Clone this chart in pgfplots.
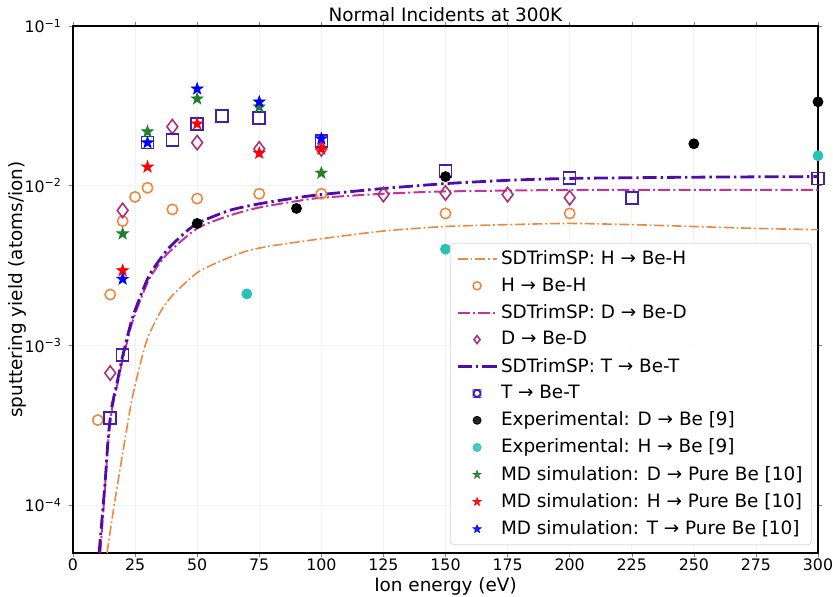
\documentclass[border=0pt]{standalone}
\usepackage{fontspec}
\setmainfont{DejaVu Sans}
\usepackage{pgfplots}
\pgfplotsset{compat=1.18}

\definecolor{cHline}{RGB}{238,136,62}
\definecolor{cDline}{RGB}{196,52,150}
\definecolor{cDmark}{RGB}{168,48,120}
\definecolor{cTline}{RGB}{78,12,172}
\definecolor{cTmark}{RGB}{62,32,182}
\definecolor{cExpH}{RGB}{40,194,182}
\definecolor{cMdD}{RGB}{34,128,44}

% filled five-pointed star
\pgfdeclareplotmark{fstar}{%
  \pgfpathmoveto{\pgfpointpolar{90}{\pgfplotmarksize}}%
  \pgfpathlineto{\pgfpointpolar{126}{0.4\pgfplotmarksize}}%
  \pgfpathlineto{\pgfpointpolar{162}{\pgfplotmarksize}}%
  \pgfpathlineto{\pgfpointpolar{198}{0.4\pgfplotmarksize}}%
  \pgfpathlineto{\pgfpointpolar{234}{\pgfplotmarksize}}%
  \pgfpathlineto{\pgfpointpolar{270}{0.4\pgfplotmarksize}}%
  \pgfpathlineto{\pgfpointpolar{306}{\pgfplotmarksize}}%
  \pgfpathlineto{\pgfpointpolar{342}{0.4\pgfplotmarksize}}%
  \pgfpathlineto{\pgfpointpolar{18}{\pgfplotmarksize}}%
  \pgfpathlineto{\pgfpointpolar{54}{0.4\pgfplotmarksize}}%
  \pgfpathclose
  \pgfusepathqfillstroke
}

\newcommand{\sfm}{\char"2212\relax}

\begin{document}
\begin{tikzpicture}
\useasboundingbox (-36.5pt,-21.5pt) rectangle (380pt,276.5pt);
\begin{axis}[
  scale only axis, width=372.5pt, height=263.5pt,
  at={(0,0)}, anchor=south west,
  ymode=log,
  xmin=0, xmax=300, ymin=5e-5, ymax=0.1,
  xtick={0,25,...,300},
  ytick={1e-4,1e-3,1e-2,1e-1},
  yticklabels={10\textsuperscript{\sfm4},10\textsuperscript{\sfm3},10\textsuperscript{\sfm2},10\textsuperscript{\sfm1}},
  /pgf/number format/assume math mode=true,
  yminorticks=false,
  tick align=outside, major tick length=2pt,
  axis line style={line width=0.9pt},
  grid=major, grid style={gray!10, line width=0.4pt},
  tick label style={font=\fontsize{7.9}{9}\selectfont},
  xticklabel style={yshift=2.5pt},
  label style={font=\fontsize{9.2}{11}\selectfont},
  title style={font=\fontsize{9.2}{11}\selectfont, yshift=-7.5pt},
  title={Normal Incidents at 300K},
  xlabel={Ion energy (eV)},
  ylabel={sputtering yield (atoms/ion)},
  xlabel style={at={(axis description cs:0.5,-0.063)}, anchor=center},
  ylabel style={at={(axis description cs:-0.075,0.5)}, anchor=center},
  legend cell align=left,
  legend image code/.code={\draw[mark repeat=2, mark phase=2, #1] plot coordinates {(0cm,0cm) (0.34cm,0cm) (0.68cm,0cm)};},
  legend image post style={mark size=2pt},
  legend style={font=\fontsize{9.2}{11}\selectfont, at={(0.992,0.015)}, anchor=south east,
    draw=gray!30, rounded corners=2pt, fill=white, fill opacity=0.85, text opacity=1,
    nodes={inner sep=1.6pt}, row sep=1.9pt},
]

\addplot[cHline, line width=0.8pt, dash pattern=on 5pt off 1.4pt on 0.9pt off 1.4pt, no marks, smooth, tension=0.4] coordinates {
  (13.7,5e-5) (16.6,1e-4) (20,2.1e-4) (24,4.8e-4) (29.5,1.05e-3) (35,1.6e-3)
  (40,2.05e-3) (50,2.85e-3) (60,3.4e-3) (70,3.9e-3) (80,4.2e-3) (100,4.65e-3)
  (125,5.2e-3) (150,5.55e-3) (175,5.7e-3) (200,5.8e-3) (225,5.7e-3) (250,5.55e-3)
  (275,5.4e-3) (300,5.3e-3)
};
\addlegendentry{SDTrimSP: H → Be-H}

\addplot[only marks, cHline, mark=o, mark size=2.6pt, mark options={line width=0.8pt}] coordinates {
  (10,3.4e-4) (15,2.08e-3) (20,6.0e-3) (25,8.5e-3) (30,9.7e-3) (40,7.1e-3)
  (50,8.3e-3) (75,8.9e-3) (100,8.9e-3) (150,6.7e-3) (200,6.7e-3)
};
\addlegendentry{H → Be-H}

\addplot[cDline, line width=1.0pt, dash pattern=on 6pt off 1.6pt on 1pt off 1.6pt, no marks, smooth, tension=0.4] coordinates {
  (11,5e-5) (12.9,1.3e-4) (14.2,2.5e-4) (15.6,3.9e-4) (18.2,6.0e-4) (19.9,8.0e-4)
  (23.6,1.35e-3) (27,1.9e-3) (31,2.65e-3) (37.7,3.7e-3) (50,5.4e-3) (63,6.5e-3)
  (75,7.3e-3) (90,8.0e-3) (100,8.4e-3) (125,8.9e-3) (150,9.2e-3) (200,9.4e-3)
  (250,9.4e-3) (300,9.4e-3)
};
\addlegendentry{SDTrimSP: D → Be-D}

\addplot[only marks, cDmark, mark=diamond, mark size=3.6pt, mark options={line width=0.8pt}] coordinates {
  (15,6.7e-4) (20,7.0e-3) (40,2.34e-2) (50,1.86e-2) (75,1.7e-2) (100,1.7e-2)
  (125,8.8e-3) (150,9.0e-3) (175,8.8e-3) (200,8.4e-3)
};
\addlegendentry{D → Be-D}

\addplot[cTline, line width=1.4pt, dash pattern=on 7pt off 2pt on 1.2pt off 2pt, no marks, smooth, tension=0.4] coordinates {
  (10.5,5e-5) (12.9,1.37e-4) (14.2,2.67e-4) (15.6,4.1e-4) (18.2,6.3e-4) (19.9,8.45e-4)
  (23.6,1.43e-3) (27,2.0e-3) (31,2.8e-3) (37.7,3.92e-3) (44,4.9e-3) (50,5.8e-3)
  (63,7.0e-3) (75,7.7e-3) (90,8.4e-3) (100,8.8e-3) (125,9.6e-3) (150,1.03e-2)
  (175,1.08e-2) (200,1.11e-2) (250,1.13e-2) (300,1.14e-2)
};
\addlegendentry{SDTrimSP: T → Be-T}

\addplot[only marks, cTmark, mark=square, mark size=3pt, mark options={line width=0.8pt},
  legend image code/.code={\draw[cTmark, line width=0.8pt] (0.34cm-1.8pt,-1.8pt) rectangle (0.34cm+1.8pt,1.8pt);}] coordinates {
  (15,3.5e-4) (20,8.7e-4) (30,1.86e-2) (40,1.94e-2) (50,2.44e-2) (60,2.74e-2)
  (75,2.66e-2) (100,1.91e-2) (150,1.24e-2) (200,1.12e-2) (225,8.4e-3) (300,1.11e-2)
};
\addlegendentry{T → Be-T}

\addplot[only marks, black, mark=*, mark size=2.5pt] coordinates {
  (50,5.8e-3) (90,7.2e-3) (150,1.14e-2) (250,1.83e-2) (300,3.35e-2)
};
\addlegendentry{Experimental: D → Be [9]}

\addplot[only marks, cExpH, mark=*, mark size=2.5pt] coordinates {
  (70,2.1e-3) (150,4.0e-3) (300,1.54e-2)
};
\addlegendentry{Experimental: H → Be [9]}

\addplot[only marks, cMdD, mark=fstar, mark size=3pt] coordinates {
  (20,5.0e-3) (30,2.18e-2) (50,3.5e-2) (75,3.12e-2) (100,1.2e-2)
};
\addlegendentry{MD simulation: D → Pure Be [10]}

\addplot[only marks, red, mark=fstar, mark size=3pt] coordinates {
  (20,2.94e-3) (30,1.31e-2) (50,2.44e-2) (75,1.6e-2) (100,1.7e-2)
};
\addlegendentry{MD simulation: H → Pure Be [10]}

\addplot[only marks, blue, mark=fstar, mark size=3pt] coordinates {
  (20,2.6e-3) (30,1.86e-2) (50,4.04e-2) (75,3.35e-2) (100,1.97e-2)
};
\addlegendentry{MD simulation: T → Pure Be [10]}

\end{axis}
\end{tikzpicture}
\end{document}
